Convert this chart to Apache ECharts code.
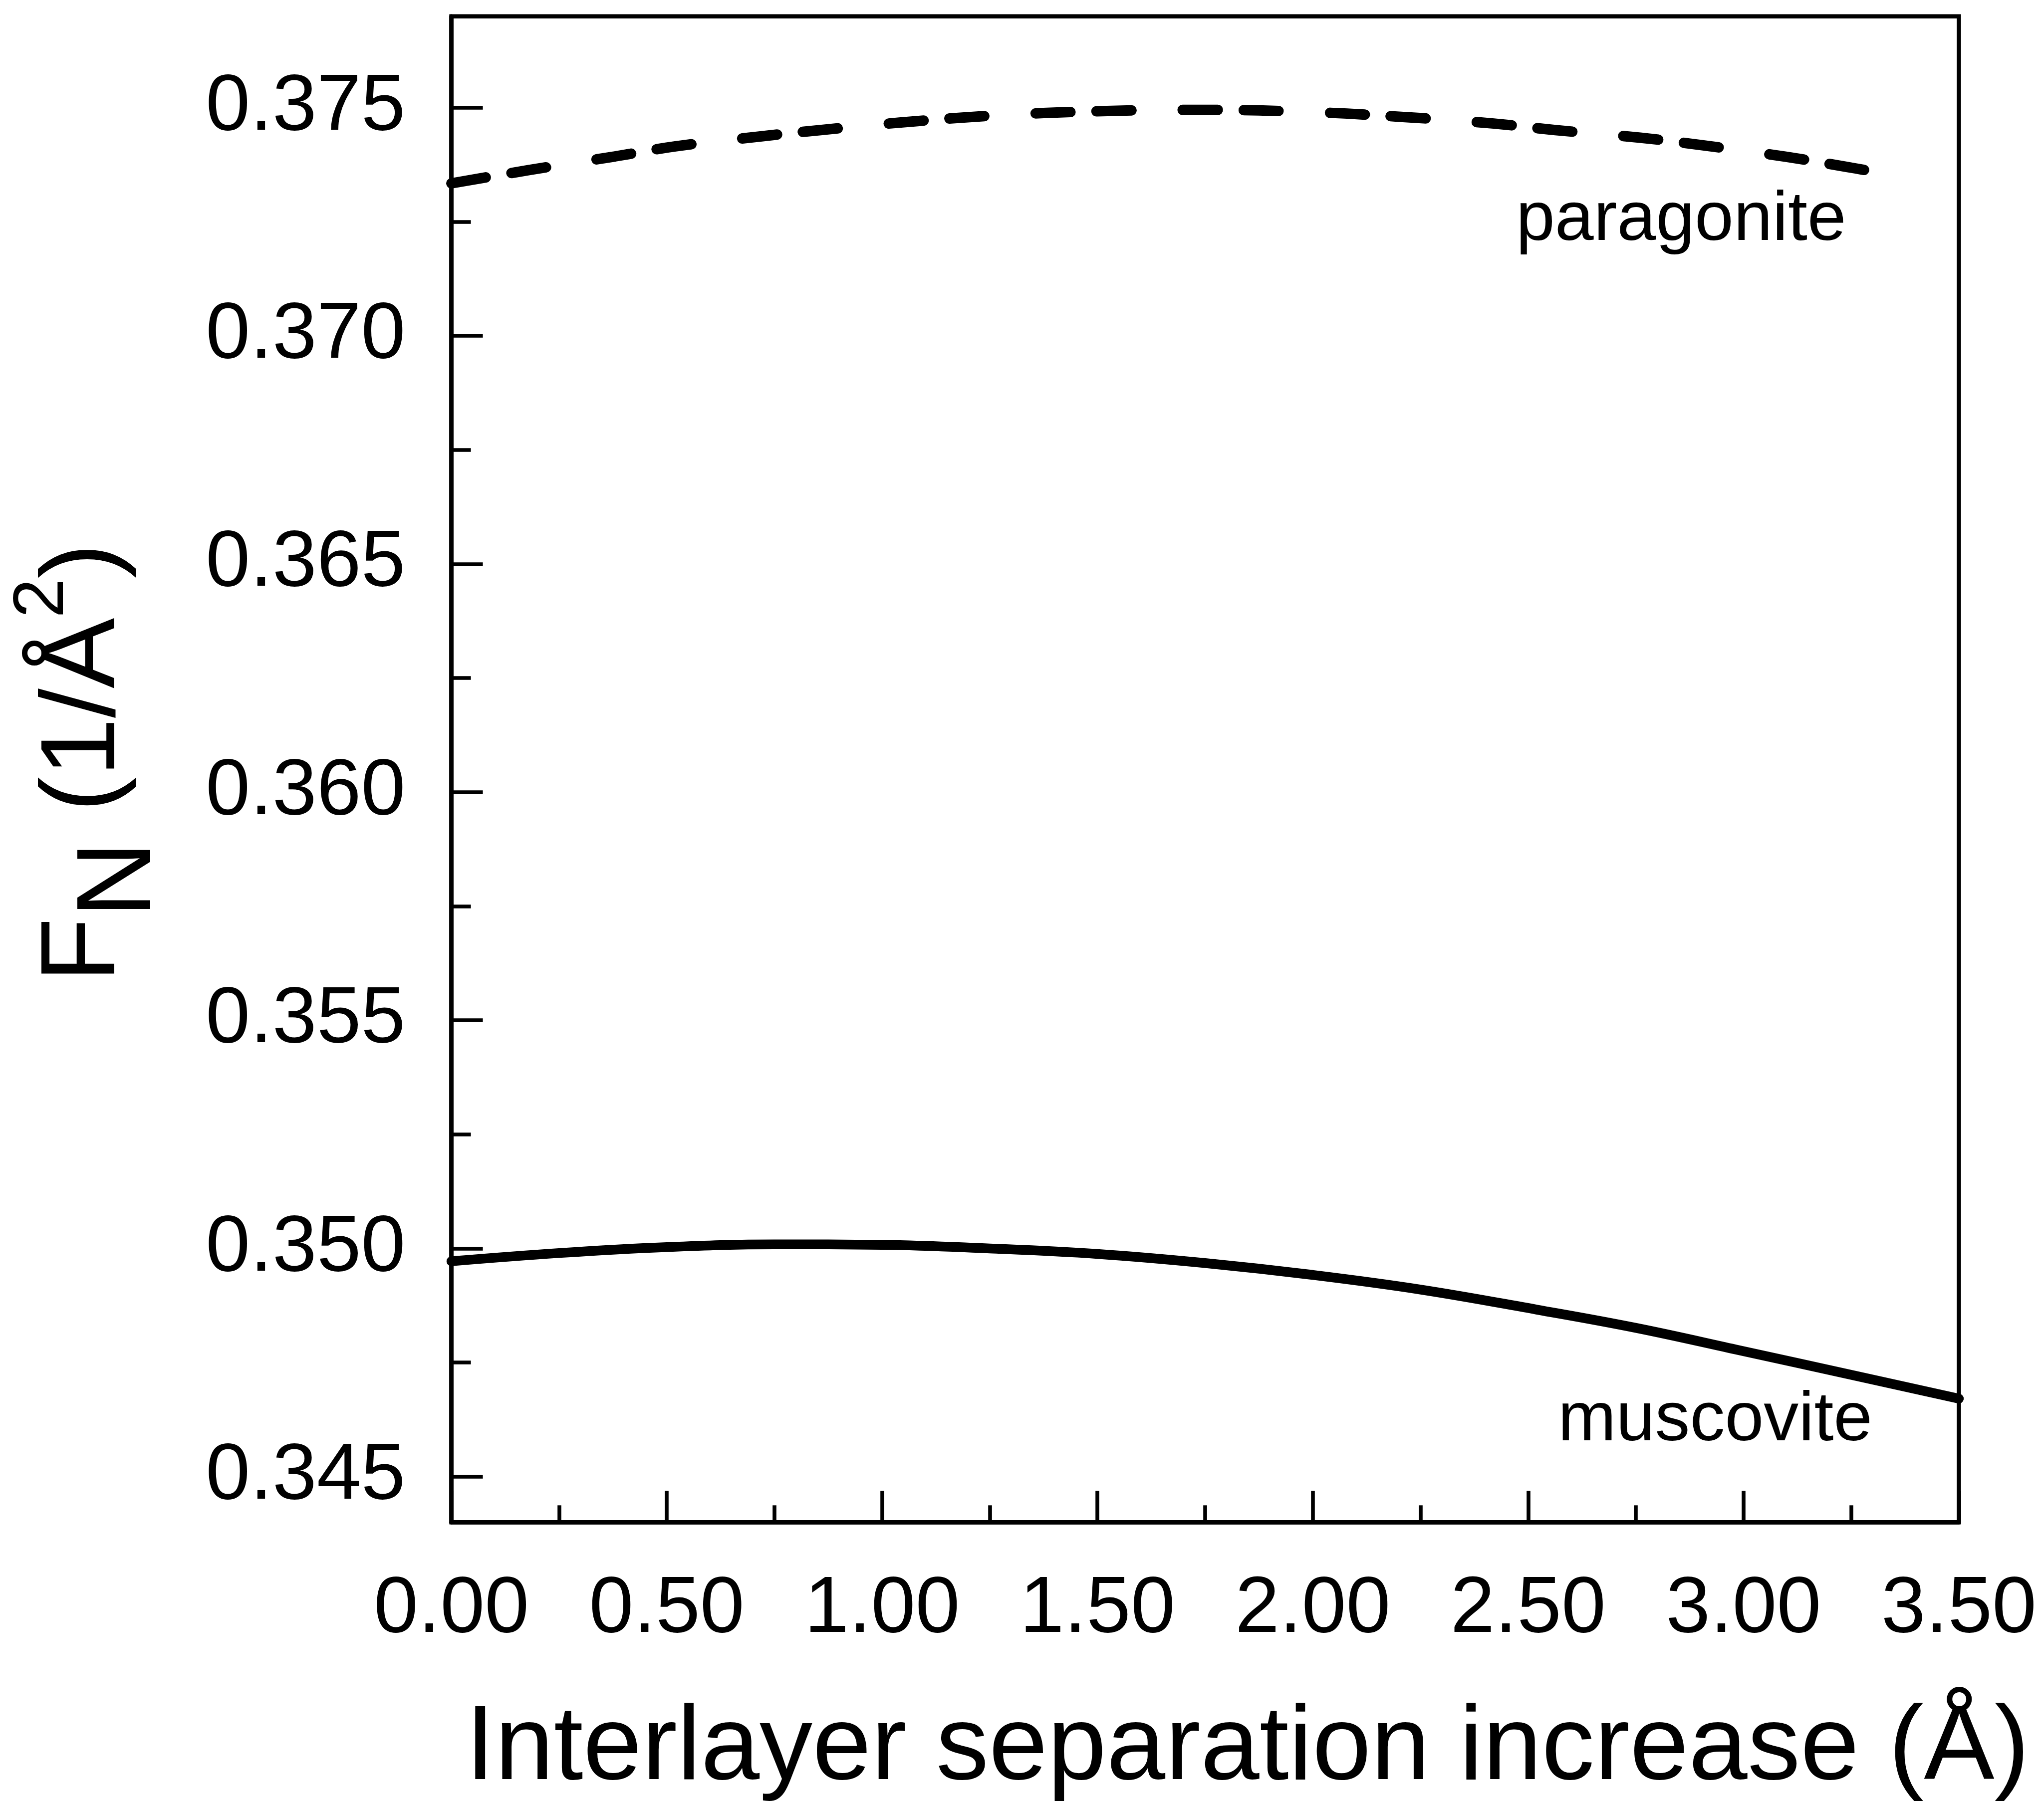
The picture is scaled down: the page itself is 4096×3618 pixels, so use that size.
<!DOCTYPE html>
<html>
<head>
<meta charset="utf-8">
<script src="https://cdn.jsdelivr.net/npm/echarts@6/dist/echarts.min.js"></script>
<style>
html,body{margin:0;padding:0;background:#fff;}
#chart{width:4096px;height:3618px;}
</style>
</head>
<body>
<div id="chart"></div>
<script>
// ---- data ----
const paragoniteX = [0, 0.18, 0.38, 0.52, 0.72, 0.86, 1.04, 1.25, 1.5, 1.75, 2.0, 2.2, 2.42, 2.56, 2.76, 2.9, 3.1, 3.24, 3.3];
const paragoniteY = [0.37334, 0.37363, 0.37393, 0.37415, 0.37437, 0.37451, 0.37467, 0.37482, 0.37492, 0.37495, 0.37490, 0.37480, 0.37465, 0.37451, 0.37434, 0.37418, 0.37392, 0.37370, 0.37360];
const muscoviteX = [0, 0.25, 0.5, 0.75, 1.0, 1.25, 1.5, 1.75, 2.0, 2.25, 2.52, 2.75, 2.99, 3.25, 3.5];
const muscoviteY = [0.34972, 0.34990, 0.35003, 0.35009, 0.35008, 0.35000, 0.34988, 0.34968, 0.34942, 0.34910, 0.34866, 0.34826, 0.34777, 0.34723, 0.34671];
const yMajorTicks = [0.345, 0.350, 0.355, 0.360, 0.365, 0.370, 0.375];
const yMinorTicks = [0.3475, 0.3525, 0.3575, 0.3625, 0.3675, 0.3725];
const xTickInterval = 0.5;
const xTitle = 'Interlayer separation increase (Å)';
const curveLabels = ['paragonite', 'muscovite'];

const FONT = 'Liberation Sans';
const zip = (xs, ys) => xs.map((x, i) => [x, ys[i]]);

const chart = echarts.init(document.getElementById('chart'), null, {renderer: 'canvas'});

const option = {
  backgroundColor: '#fff',
  animation: false,
  grid: {
    left: 904.6, right: 170.6, top: 32.7, bottom: 566.7,
    show: true, borderColor: '#000', borderWidth: 8.5, backgroundColor: 'transparent',
    containLabel: false, outerBoundsMode: 'none'
  },
  xAxis: {
    type: 'value', min: 0, max: 3.5, interval: xTickInterval,
    axisLine: {show: true, onZero: false, lineStyle: {color: '#000', width: 8.5}},
    axisTick: {show: true, inside: true, length: 63, lineStyle: {color: '#000', width: 7.6}},
    minorTick: {show: true, splitNumber: 2, length: 34, lineStyle: {color: '#000', width: 7.6}},
    axisLabel: {show: true, margin: 96, fontSize: 160, fontFamily: FONT, color: '#000',
      formatter: v => v.toFixed(2)},
    splitLine: {show: false}, minorSplitLine: {show: false}
  },
  yAxis: [{
    type: 'value', min: 0.344, max: 0.377,
    axisLine: {show: true, onZero: false, lineStyle: {color: '#000', width: 8.5}},
    axisTick: {show: true, inside: true, length: 63, customValues: yMajorTicks, lineStyle: {color: '#000', width: 7.6}},
    axisLabel: {show: true, margin: 92, fontSize: 160, fontFamily: FONT, color: '#000',
      customValues: yMajorTicks, formatter: v => v.toFixed(3)},
    splitLine: {show: false}
  }, {
    type: 'value', min: 0.344, max: 0.377, position: 'left', offset: 0,
    axisLine: {show: false},
    axisTick: {show: true, inside: true, length: 39, customValues: yMinorTicks, lineStyle: {color: '#000', width: 7.6}},
    axisLabel: {show: false},
    splitLine: {show: false}
  }],
  series: [{
    name: 'paragonite', type: 'line', yAxisIndex: 0,
    data: zip(paragoniteX, paragoniteY),
    smooth: 0.4, showSymbol: false, symbol: 'none', clip: false,
    lineStyle: {color: '#000', width: 21, type: [70, 52, 70, 103], cap: 'round'}
  }, {
    name: 'muscovite', type: 'line', yAxisIndex: 0,
    data: zip(muscoviteX, muscoviteY),
    smooth: 0.4, showSymbol: false, symbol: 'none', clip: false,
    lineStyle: {color: '#000', width: 19.5, type: 'solid', cap: 'round'}
  }],
  graphic: [{
    type: 'text', x: 2500, y: 3508,
    style: {text: xTitle, fill: '#000', fontSize: 212, fontFamily: FONT,
      font: '212px "Liberation Sans"',
      align: 'center', textAlign: 'center', verticalAlign: 'middle', textVerticalAlign: 'middle'}
  }, {
    type: 'text', x: 16, y: 1529, rotation: Math.PI / 2,
    style: {
      text: '{a|F}{n|N}{a| (1/Å}{s|2}{a|)}',
      fill: '#000',
      align: 'center', textAlign: 'center', verticalAlign: 'top', textVerticalAlign: 'top',
      rich: {
        a: {fontSize: 212, fontFamily: FONT, fill: '#000', color: '#000', verticalAlign: 'top', padding: [49, 0, 0, 0]},
        n: {fontSize: 212, fontFamily: FONT, fill: '#000', color: '#000', verticalAlign: 'top', padding: [121, 0, 0, 0]},
        s: {fontSize: 142, fontFamily: FONT, fill: '#000', color: '#000', verticalAlign: 'top', padding: [0, 0, 0, 0]}
      }
    }
  }, {
    type: 'text', x: 3038, y: 442.5,
    style: {text: curveLabels[0], fill: '#000', fontSize: 140, fontFamily: FONT,
      font: '140px "Liberation Sans"',
      align: 'left', textAlign: 'left', verticalAlign: 'middle', textVerticalAlign: 'middle'}
  }, {
    type: 'text', x: 3122, y: 2848.5,
    style: {text: curveLabels[1], fill: '#000', fontSize: 140, fontFamily: FONT,
      font: '140px "Liberation Sans"',
      align: 'left', textAlign: 'left', verticalAlign: 'middle', textVerticalAlign: 'middle'}
  }]
};
chart.setOption(option);
</script>
</body>
</html>
